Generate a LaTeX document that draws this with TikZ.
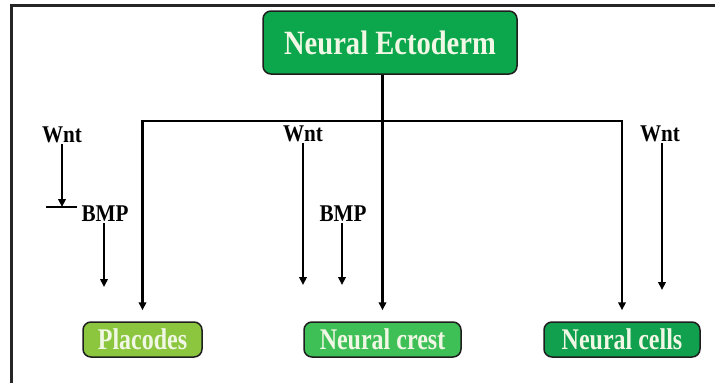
\documentclass[tikz,border=0pt]{standalone}
\usepackage{fontspec}
\setmainfont{Liberation Serif}
\newfontfamily\boxfont[FakeStretch=0.80]{Liberation Serif}
\newfontfamily\nefont[FakeStretch=0.84]{Liberation Serif}
\newfontfamily\sigfont[FakeStretch=0.88]{Liberation Serif}
\usetikzlibrary{arrows.meta}
\definecolor{neGreen}{RGB}{12,166,76}
\definecolor{plGreen}{RGB}{140,198,63}
\definecolor{ncGreen}{RGB}{62,192,86}
\definecolor{cellGreen}{RGB}{16,160,78}
\definecolor{boxText}{RGB}{240,247,228}
\definecolor{boxLine}{RGB}{30,30,30}
\tikzset{
  gbox/.style={draw=boxLine, line width=1.5pt, rounded corners=8pt, inner sep=0pt,
    text=boxText, font=\boxfont\bfseries\fontsize{30}{30}\selectfont},
  sig/.style={inner sep=1pt, font=\sigfont\bfseries\fontsize{24}{24}\selectfont},
  conn/.style={line width=2.4pt, draw=black},
  arr/.style={conn, -{Triangle[length=8pt,width=7.5pt]}},
  frame/.style={line width=3pt, draw=black!85}
}
\begin{document}
\begin{tikzpicture}[x=1pt,y=-1pt]
\useasboundingbox (0,0) rectangle (715,383);
\fill[white] (0,0) rectangle (715,383);
% frame (top and left only)
\draw[frame] (11,383) -- (11,5) -- (715,5);
% boxes
\node[gbox, fill=neGreen, minimum width=254pt, minimum height=63pt,
      font=\nefont\bfseries\fontsize{34}{34}\selectfont] (ne) at (390,42.5) {Neural Ectoderm};
\node[gbox, fill=plGreen, minimum width=119pt, minimum height=35pt] (pl) at (142.5,339.5) {Placodes};
\node[gbox, fill=ncGreen, minimum width=157pt, minimum height=35pt] (nc) at (382.5,339.5) {Neural crest};
\node[gbox, fill=cellGreen, minimum width=156pt, minimum height=35pt] (cells) at (622,339.5) {Neural cells};
% tree
\coordinate (hl) at (142.5,121);
\coordinate (hr) at (622,121);
\draw[conn, line cap=rect] (hl) -- (hr);
\draw[arr, shorten >=11pt] (ne.south -| nc.north) -- (nc.north);
\draw[arr, shorten >=11pt] (hl) -- (pl.north);
\draw[arr, shorten >=11pt] (hr) -- (cells.north);
% left signals
\node[sig] (w1) at (62,135) {Wnt};
\node[sig] (b1) at (105,214) {BMP};
\coordinate (t1) at (62,207);
\coordinate (tl) at (46,207);
\coordinate (tr) at (77,207);
\draw[arr] (w1.south) -- (t1);
\draw[conn] (tl) -- (tr);
\coordinate (e1) at (104,287);
\draw[arr] (b1.south -| e1) -- (e1);
% middle signals
\node[sig] (w2) at (303,134) {Wnt};
\coordinate (e2) at (303,285);
\draw[arr] (w2.south -| e2) -- (e2);
\node[sig] (b2) at (343,214) {BMP};
\coordinate (e3) at (342,285);
\draw[arr] (b2.south -| e3) -- (e3);
% right signal
\node[sig] (w3) at (660,134) {Wnt};
\coordinate (e4) at (662,290);
\draw[arr] (w3.south -| e4) -- (e4);
\end{tikzpicture}
\end{document}
